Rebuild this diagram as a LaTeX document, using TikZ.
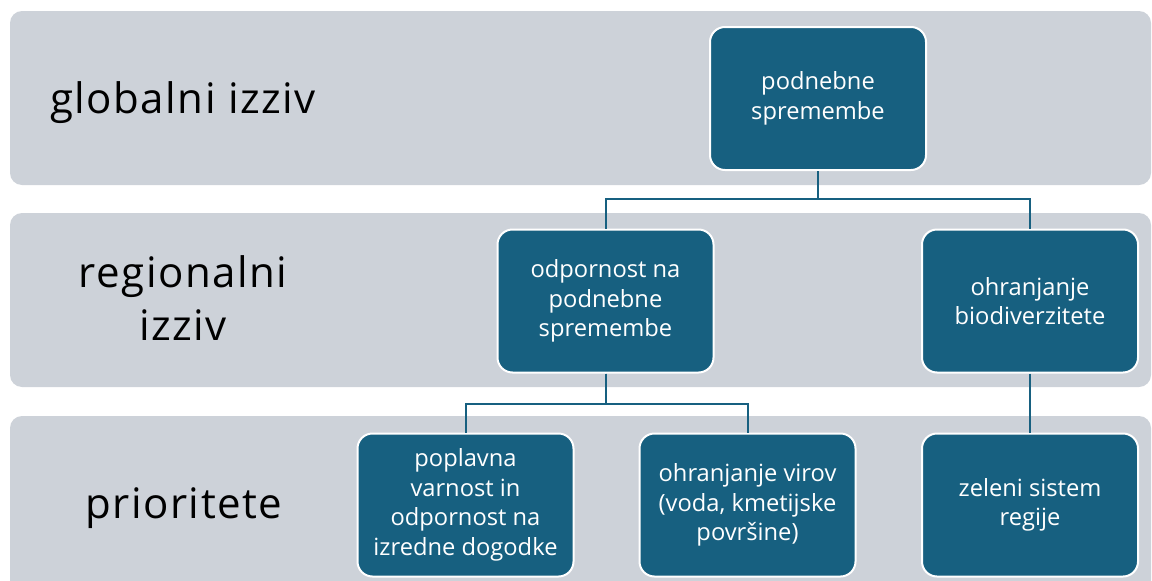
\documentclass[tikz,border=0pt]{standalone}
\usepackage{fontspec}
\setmainfont{Open Sans}
\newfontfamily\lblfont[LetterSpace=3.5]{Open Sans}
\definecolor{bandgray}{RGB}{205,210,217}
\definecolor{boxblue}{RGB}{23,96,128}
\begin{document}
\begin{tikzpicture}[x=1pt,y=-1pt,
  band/.style={fill=bandgray,draw=none,rounded corners=12pt},
  bluebox/.style={fill=boxblue,draw=white,line width=2pt,rounded corners=15pt,
    minimum width=216pt,minimum height=143pt,text=white,align=center,
    font=\fontsize{23.7}{29.5}\selectfont,inner sep=0pt},
  lbl/.style={anchor=base,align=center,font=\lblfont\fontsize{42}{53}\selectfont,text=black},
  conn/.style={draw=boxblue,line width=2pt}]
\useasboundingbox (0,0) rectangle (1152,581);
\clip (0,0) rectangle (1152,581);
% bands
\path[band] (10,11) rectangle (1151,185);
\path[band] (10,213) rectangle (1151,387);
\path[band] (10,416) rectangle (1151,600);
% level labels
\node[lbl] (l1) at (183,113) {globalni izziv};
\node[lbl] (l2) at (183,340) {regionalni\\izziv};
\node[lbl] (l3) at (184,518) {prioritete};
% boxes
\node[bluebox] (t)  at (818,98.5) {podnebne\\spremembe};
\node[bluebox] (r1) at (605.5,301) {odpornost na\\podnebne\\spremembe};
\node[bluebox] (r2) at (1030,301) {ohranjanje\\biodiverzitete};
\node[bluebox] (p1) at (465.5,505) {poplavna\\varnost in\\odpornost na\\izredne dogodke};
\node[bluebox] (p2) at (747.5,505) {ohranjanje virov\\(voda, kmetijske\\površine)};
\node[bluebox] (p3) at (1030,505) {zeleni sistem\\regije};
% connectors
\draw[conn] (t.south) -- ++(0,28) -| (r1.north);
\draw[conn] (t.south) -- ++(0,28) -| (r2.north);
\draw[conn] (r1.south) -- ++(0,30) -| (p1.north);
\draw[conn] (r1.south) -- ++(0,30) -| (p2.north);
\draw[conn] (r2.south) -- (p3.north);
\end{tikzpicture}
\end{document}
